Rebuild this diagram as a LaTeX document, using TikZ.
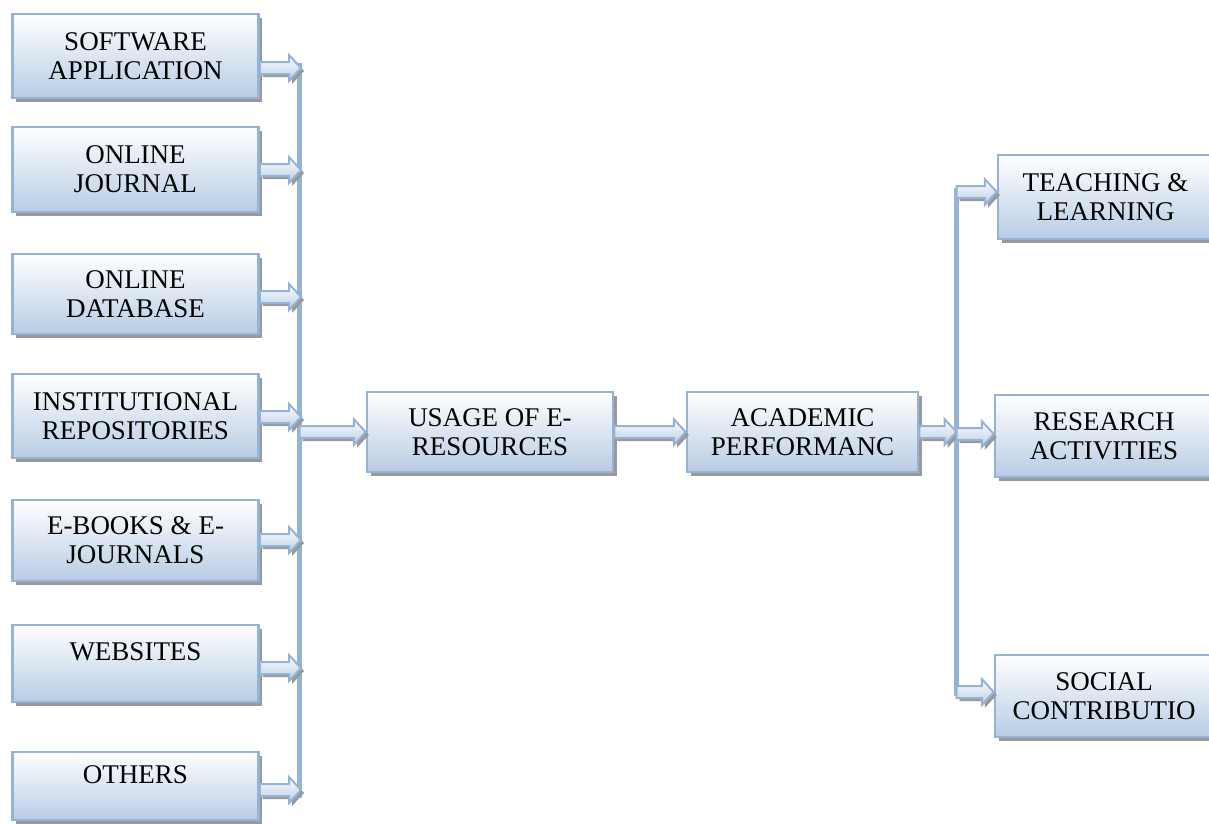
\documentclass[tikz,border=0pt]{standalone}
\usepackage{fontspec}
\setmainfont{Liberation Serif}
\usetikzlibrary{calc,shadows}
\definecolor{boxedge}{HTML}{95B3D7}
\definecolor{boxfill}{HTML}{B8CCE4}
\tikzset{
	ebox/.style={rectangle,draw=boxedge,line width=2.5pt,top color=white,bottom color=boxfill,
		drop shadow={shadow xshift=3.5pt,shadow yshift=-3.5pt,fill=black!40,opacity=1},
		inner sep=0pt,align=center,font=\fontsize{27}{29}\selectfont},
	arrowbody/.style={draw=boxedge,line width=2pt,line join=miter,top color=white,bottom color=boxfill,
		drop shadow={shadow xshift=3pt,shadow yshift=-3pt,fill=black!40,opacity=1}},
	bar/.style={draw=boxedge,line width=5pt}
}
\newcommand\fatarrow[2]{%
	\path[arrowbody] let \p1=#1, \p2=#2 in
		(\x1,\y1+6pt) -- (\x2-12pt,\y1+6pt) -- (\x2-12pt,\y1+13pt) -- (\x2,\y1)
		-- (\x2-12pt,\y1-13pt) -- (\x2-12pt,\y1-6pt) -- (\x1,\y1-6pt) -- cycle;}
\begin{document}
\begin{tikzpicture}[x=1pt,y=-1pt]
	\useasboundingbox (0,0) rectangle (1209,823);
	% sources
	\node[ebox,minimum width=246,minimum height=84] (sw) at (135.5,56) {SOFTWARE\\APPLICATION};
	\node[ebox,minimum width=246,minimum height=85] (oj) at (135.5,169.5) {ONLINE\\JOURNAL};
	\node[ebox,minimum width=246,minimum height=80] (od) at (135.5,294) {ONLINE\\DATABASE};
	\node[ebox,minimum width=246,minimum height=84] (ir) at (135.5,416) {INSTITUTIONAL\\REPOSITORIES};
	\node[ebox,minimum width=246,minimum height=81] (eb) at (135.5,540.5) {E-BOOKS \& E-\\JOURNALS};
	\node[ebox,minimum width=246,minimum height=77] (ws) at (135.5,663.5) {WEBSITES\\[-14pt]\strut};
	\node[ebox,minimum width=246,minimum height=68] (ot) at (135.5,786) {OTHERS\\[-14pt]\strut};
	% middle
	\node[ebox,minimum width=246,minimum height=80] (usage) at (490,432) {USAGE OF E-\\RESOURCES};
	\node[ebox,minimum width=231,minimum height=80] (acad) at (802.5,432) {ACADEMIC\\PERFORMANC};
	% outcomes
	\node[ebox,minimum width=215,minimum height=84] (teach) at (1105.5,197) {TEACHING \&\\LEARNING};
	\node[ebox,minimum width=218,minimum height=82] (res) at (1104,436) {RESEARCH\\ACTIVITIES};
	\node[ebox,minimum width=218,minimum height=82] (soc) at (1104,696) {SOCIAL\\CONTRIBUTIO};
	% bars
	\coordinate (ltop) at (299.5,63);
	\coordinate (lbot) at (299.5,798);
	\coordinate (rtop) at (956.5,188);
	\coordinate (rbot) at (956.5,696);
	\draw[bar] (ltop) -- (lbot);
	\draw[bar] (rtop) -- (rbot);
	\coordinate (l1) at (301,68);
	\coordinate (l2) at (301,170);
	\coordinate (l3) at (301,297);
	\coordinate (l4) at (301,417);
	\coordinate (l5) at (301,540);
	\coordinate (l6) at (301,668);
	\coordinate (l7) at (301,790);
	\coordinate (r1) at (956.5,192);
	\coordinate (r2) at (956.5,434);
	\coordinate (r3) at (956.5,692);
	% arrows
	\fatarrow{(sw.east |- l1)}{(l1)}
	\fatarrow{(oj.east |- l2)}{(l2)}
	\fatarrow{(od.east |- l3)}{(l3)}
	\fatarrow{(ir.east |- l4)}{(l4)}
	\fatarrow{(eb.east |- l5)}{(l5)}
	\fatarrow{(ws.east |- l6)}{(l6)}
	\fatarrow{(ot.east |- l7)}{(l7)}
	\fatarrow{(ltop |- usage.west)}{(usage.west)}
	\fatarrow{(usage.east)}{(acad.west)}
	\fatarrow{(acad.east)}{(acad.east -| rtop)}
	\fatarrow{(r1)}{(teach.west |- r1)}
	\fatarrow{(r2)}{(res.west |- r2)}
	\fatarrow{(r3)}{(soc.west |- r3)}
\end{tikzpicture}
\end{document}
